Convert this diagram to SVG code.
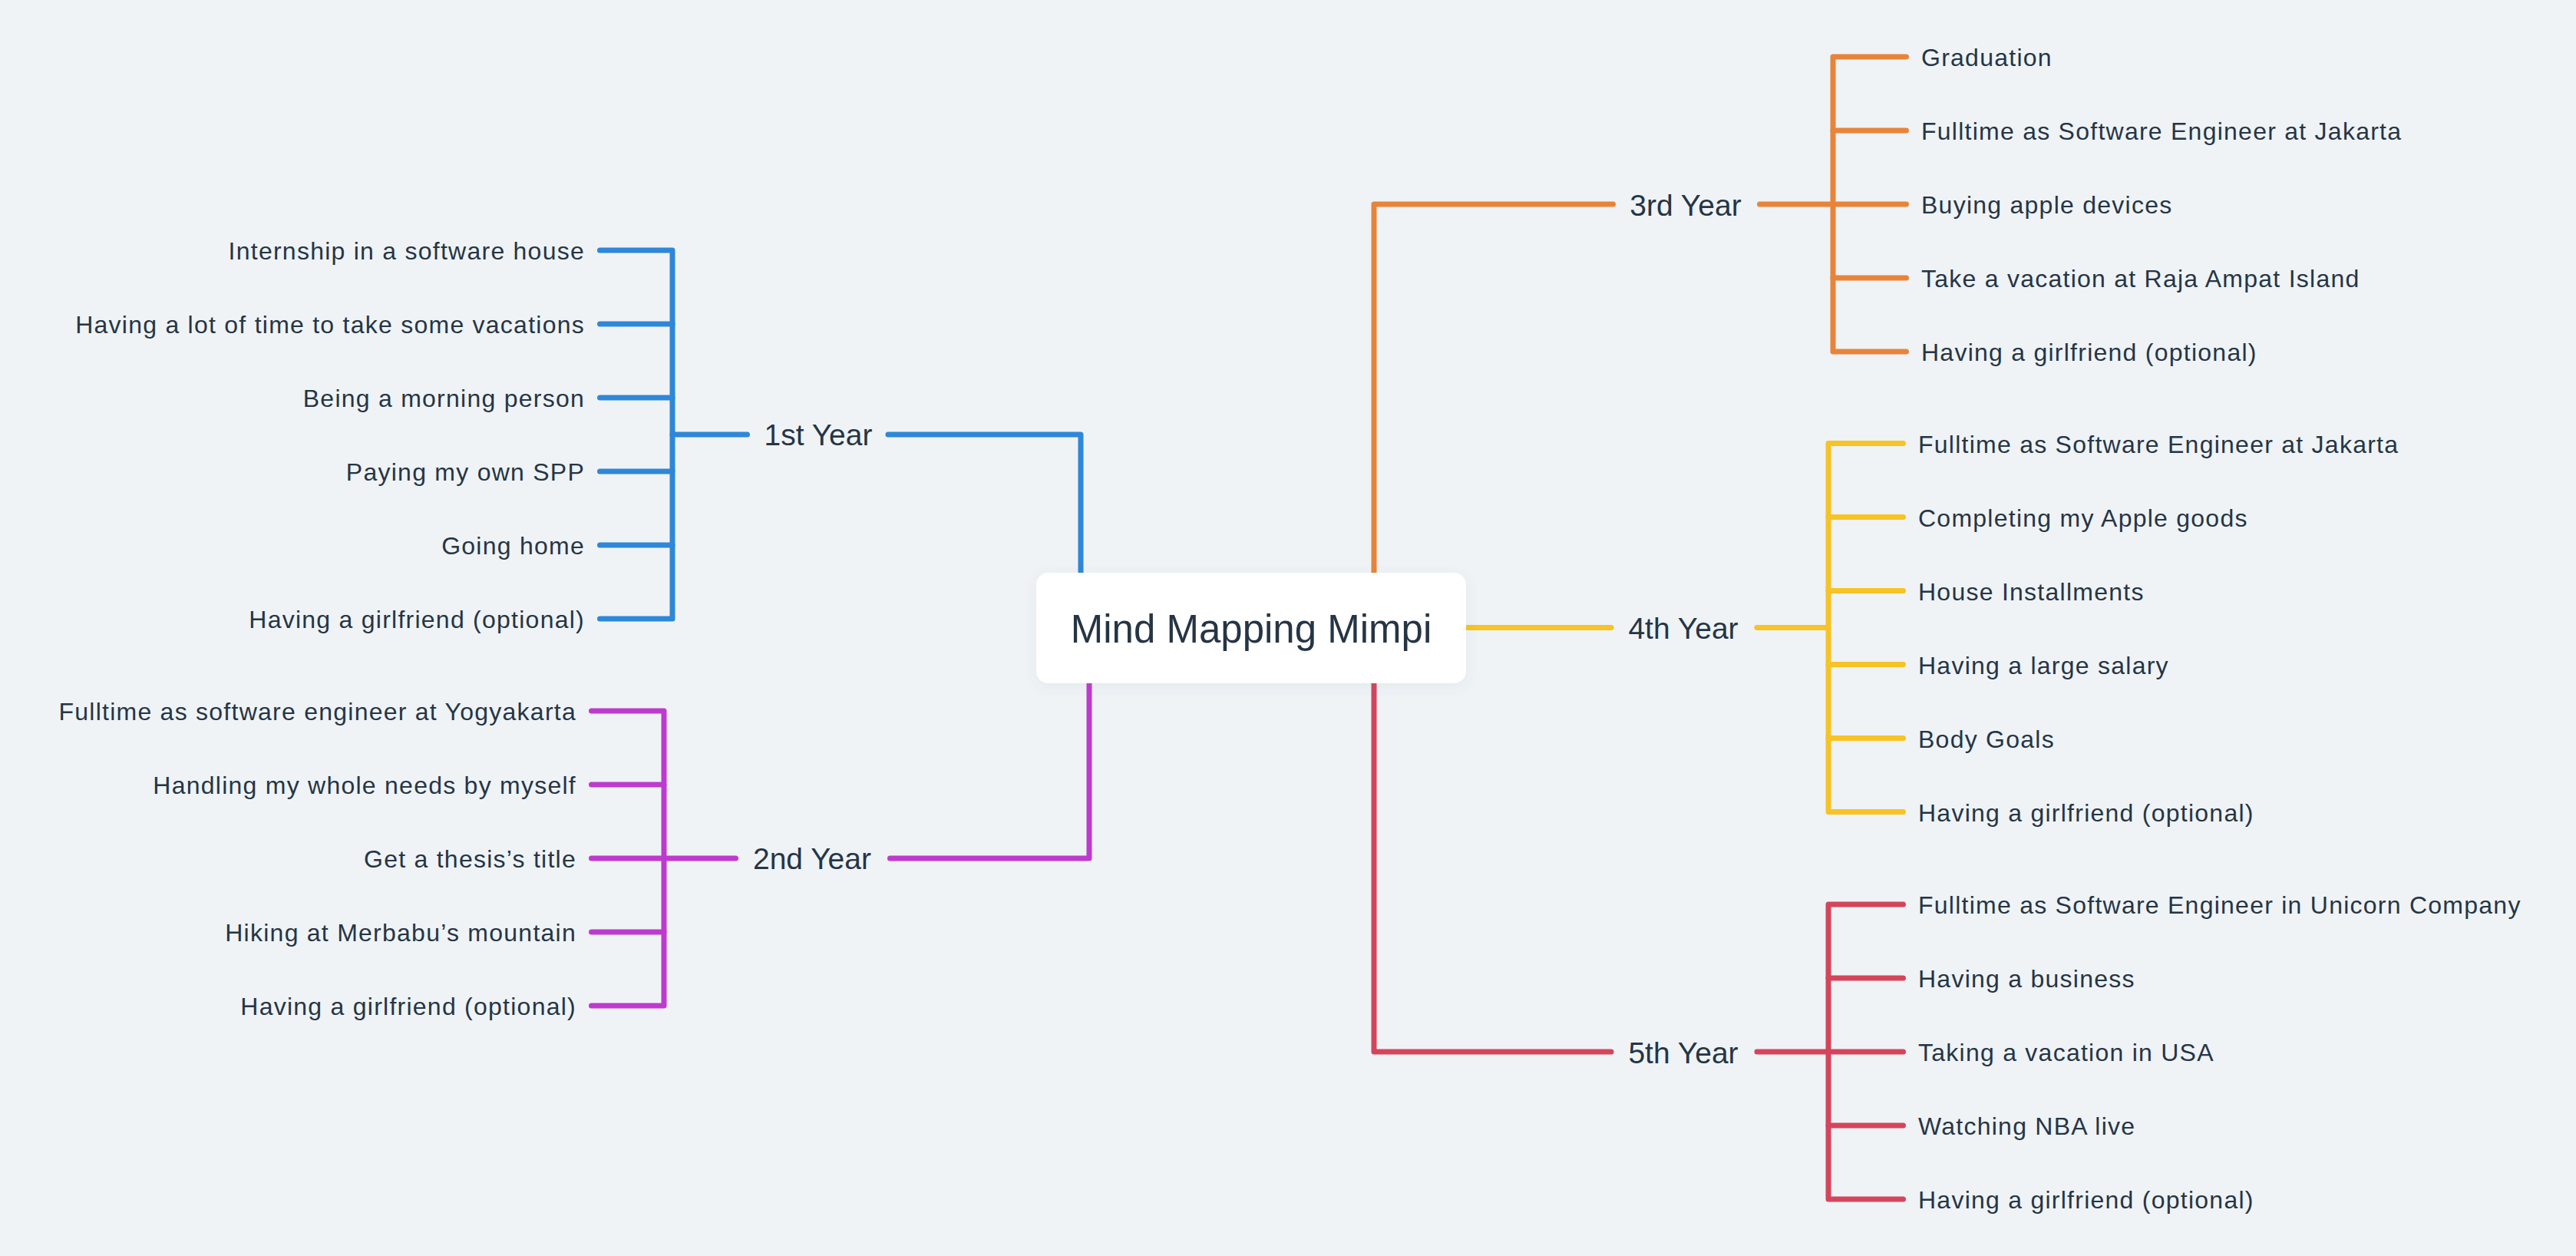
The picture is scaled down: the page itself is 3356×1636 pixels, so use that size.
<svg xmlns="http://www.w3.org/2000/svg" width="3356" height="1636" viewBox="0 0 3356 1636">
<style>
.ln{fill:none;stroke-width:7;stroke-linecap:round;stroke-linejoin:round}
.b{stroke:#2e87d8}.p{stroke:#be3ace}.o{stroke:#e8843a}.y{stroke:#f7c325}.r{stroke:#d4455c}
text{font-family:"Liberation Sans",Arial,sans-serif;fill:#263545}
.c{font-size:32px;letter-spacing:1.25px}
.l1{font-size:39px;text-anchor:middle}
.t{font-size:51px;text-anchor:middle}
.e{text-anchor:end}
</style>
<defs>
<filter id="sh" x="-10%" y="-20%" width="120%" height="150%">
<feDropShadow dx="0" dy="4" stdDeviation="8" flood-color="#5a6e82" flood-opacity="0.08"/>
</filter>
</defs>
<rect width="3356" height="1636" fill="#eff3f6"/>
<g id="connectors">
<path class="ln b" d="M1408 800 V566 H1157"/>
<path class="ln b" d="M973.5 566 H876"/>
<path class="ln b" d="M781.5 326 H876 V806 H781.5"/>
<path class="ln b" d="M781.5 422 H876 M781.5 518 H876 M781.5 614 H876 M781.5 710 H876"/>
<path class="ln p" d="M1419 840 V1118 H1159.5"/>
<path class="ln p" d="M958.5 1118 H865"/>
<path class="ln p" d="M770.5 926 H865 V1310 H770.5"/>
<path class="ln p" d="M770.5 1022 H865 M770.5 1118 H865 M770.5 1214 H865"/>
<path class="ln o" d="M1790 800 V266 H2101.5"/>
<path class="ln o" d="M2292.5 266 H2388"/>
<path class="ln o" d="M2483.5 74 H2388 V458 H2483.5"/>
<path class="ln o" d="M2388 170 H2483.5 M2388 266 H2483.5 M2388 362 H2483.5"/>
<path class="ln y" d="M1880 817.5 H2099"/>
<path class="ln y" d="M2289 817.5 H2382"/>
<path class="ln y" d="M2479.5 577.5 H2382 V1057.5 H2479.5"/>
<path class="ln y" d="M2382 673.5 H2479.5 M2382 769.5 H2479.5 M2382 865.5 H2479.5 M2382 961.5 H2479.5"/>
<path class="ln r" d="M1790 840 V1370 H2099"/>
<path class="ln r" d="M2289 1370 H2382"/>
<path class="ln r" d="M2479.5 1178 H2382 V1562 H2479.5"/>
<path class="ln r" d="M2382 1274 H2479.5 M2382 1370 H2479.5 M2382 1466 H2479.5"/>
</g>
<g id="root">
<rect x="1350" y="746" width="560" height="144" rx="16" fill="#ffffff" filter="url(#sh)"/>
<text class="t" x="1630" y="837">Mind Mapping Mimpi</text>
</g>
<g id="year1"><text class="l1" x="1066" y="580">1st Year</text></g>
<g id="y1c1"><text class="c e" x="762" y="338">Internship in a software house</text></g>
<g id="y1c2"><text class="c e" x="762" y="434">Having a lot of time to take some vacations</text></g>
<g id="y1c3"><text class="c e" x="762" y="530">Being a morning person</text></g>
<g id="y1c4"><text class="c e" x="762" y="626">Paying my own SPP</text></g>
<g id="y1c5"><text class="c e" x="762" y="722">Going home</text></g>
<g id="y1c6"><text class="c e" x="762" y="818">Having a girlfriend (optional)</text></g>
<g id="year2"><text class="l1" x="1058" y="1132">2nd Year</text></g>
<g id="y2c1"><text class="c e" x="751" y="938">Fulltime as software engineer at Yogyakarta</text></g>
<g id="y2c2"><text class="c e" x="751" y="1034">Handling my whole needs by myself</text></g>
<g id="y2c3"><text class="c e" x="751" y="1130">Get a thesis’s title</text></g>
<g id="y2c4"><text class="c e" x="751" y="1226">Hiking at Merbabu’s mountain</text></g>
<g id="y2c5"><text class="c e" x="751" y="1322">Having a girlfriend (optional)</text></g>
<g id="year3"><text class="l1" x="2196" y="281">3rd Year</text></g>
<g id="y3c1"><text class="c" x="2503" y="86">Graduation</text></g>
<g id="y3c2"><text class="c" x="2503" y="182">Fulltime as Software Engineer at Jakarta</text></g>
<g id="y3c3"><text class="c" x="2503" y="278">Buying apple devices</text></g>
<g id="y3c4"><text class="c" x="2503" y="374">Take a vacation at Raja Ampat Island</text></g>
<g id="y3c5"><text class="c" x="2503" y="470">Having a girlfriend (optional)</text></g>
<g id="year4"><text class="l1" x="2193" y="832">4th Year</text></g>
<g id="y4c1"><text class="c" x="2499" y="589.5">Fulltime as Software Engineer at Jakarta</text></g>
<g id="y4c2"><text class="c" x="2499" y="685.5">Completing my Apple goods</text></g>
<g id="y4c3"><text class="c" x="2499" y="781.5">House Installments</text></g>
<g id="y4c4"><text class="c" x="2499" y="877.5">Having a large salary</text></g>
<g id="y4c5"><text class="c" x="2499" y="973.5">Body Goals</text></g>
<g id="y4c6"><text class="c" x="2499" y="1069.5">Having a girlfriend (optional)</text></g>
<g id="year5"><text class="l1" x="2193" y="1385">5th Year</text></g>
<g id="y5c1"><text class="c" x="2499" y="1190">Fulltime as Software Engineer in Unicorn Company</text></g>
<g id="y5c2"><text class="c" x="2499" y="1286">Having a business</text></g>
<g id="y5c3"><text class="c" x="2499" y="1382">Taking a vacation in USA</text></g>
<g id="y5c4"><text class="c" x="2499" y="1478">Watching NBA live</text></g>
<g id="y5c5"><text class="c" x="2499" y="1574">Having a girlfriend (optional)</text></g>
</svg>
